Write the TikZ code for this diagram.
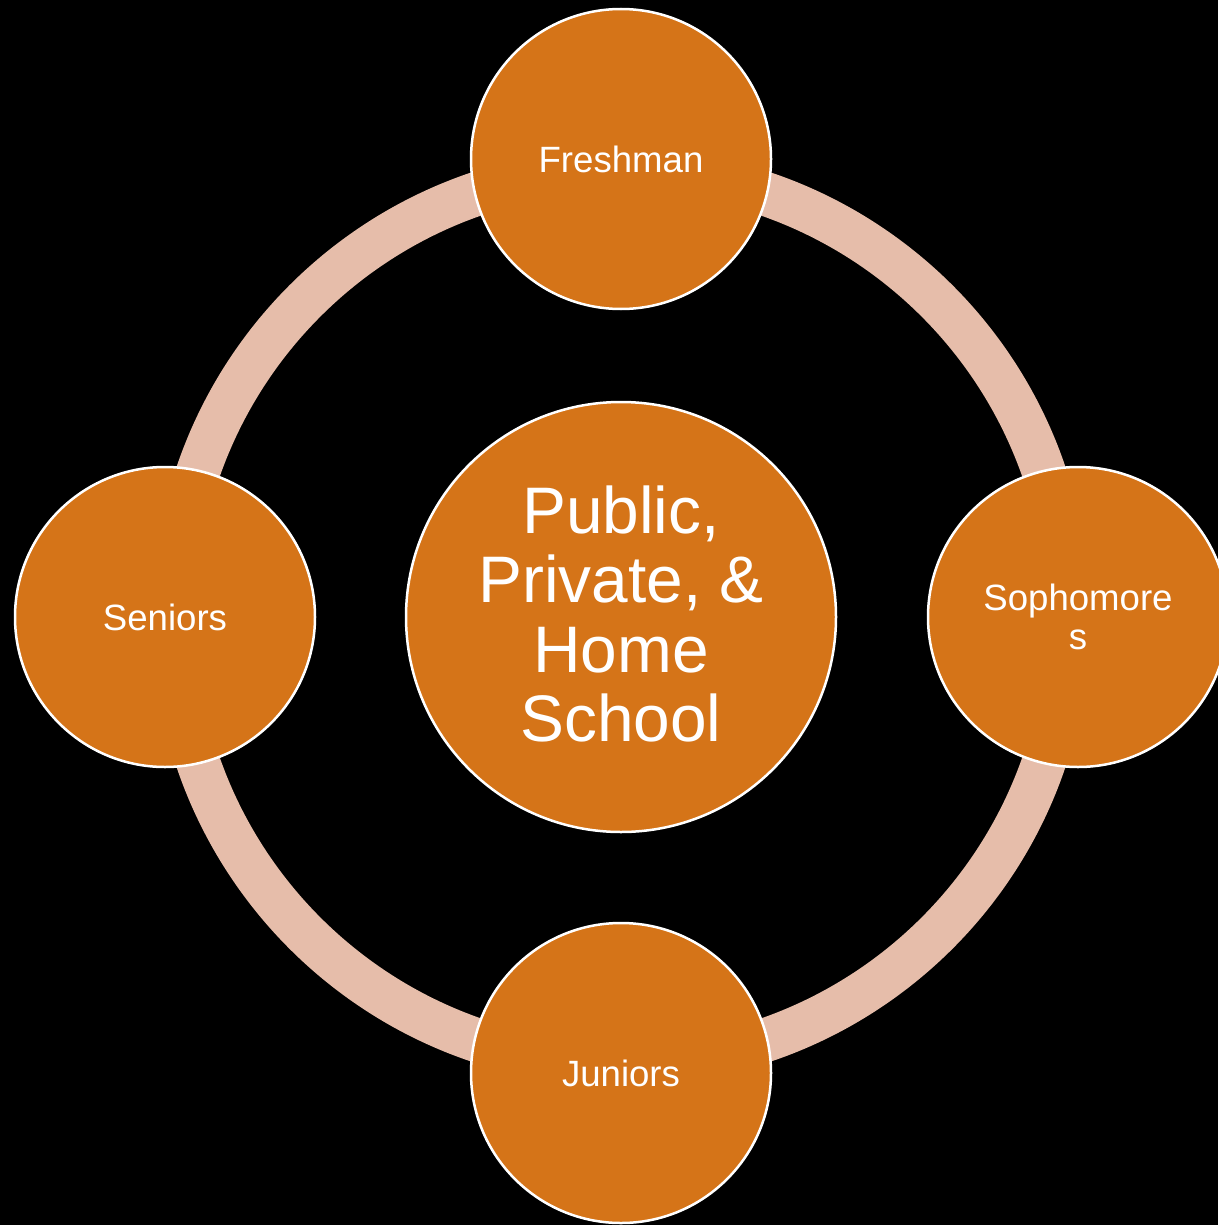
\documentclass[tikz,border=0pt]{standalone}
\usepackage{fontspec}
\setmainfont{Liberation Sans}
\definecolor{orangefill}{RGB}{213,116,24}
\definecolor{ringcol}{RGB}{230,189,170}
\tikzset{
  sat/.style={circle, draw=white, line width=2.5pt, fill=orangefill, minimum size=300pt, inner sep=0pt,
    text=white, align=center, font=\fontsize{36.6}{39}\selectfont},
  hub/.style={circle, draw=white, line width=2.5pt, fill=orangefill, minimum size=430pt, inner sep=0pt},
  hubtxt/.style={text=white, align=center, font=\fontsize{65.8}{69.5}\selectfont},
  ringline/.style={draw=ringcol, line width=44pt}
}
\begin{document}
\begin{tikzpicture}[x=1pt,y=-1pt]
\fill[black] (0,0) rectangle (1218,1225);
\useasboundingbox (0,0) rectangle (1218,1225);
\coordinate (c) at (621,617);
\draw[ringline] (c) circle[radius=447pt];
\node[hub] (hub) at (c) {};
\node[hubtxt] (hubtext) at (621,614) {Public,\\Private, \&\\Home\\School};
\node[sat] (fresh) at (621,159) {Freshman};
\node[sat] (soph) at (1078,617) {Sophomore\\s};
\node[sat] (jun) at (621,1073) {Juniors};
\node[sat] (sen) at (165,617) {Seniors};
\end{tikzpicture}
\end{document}
